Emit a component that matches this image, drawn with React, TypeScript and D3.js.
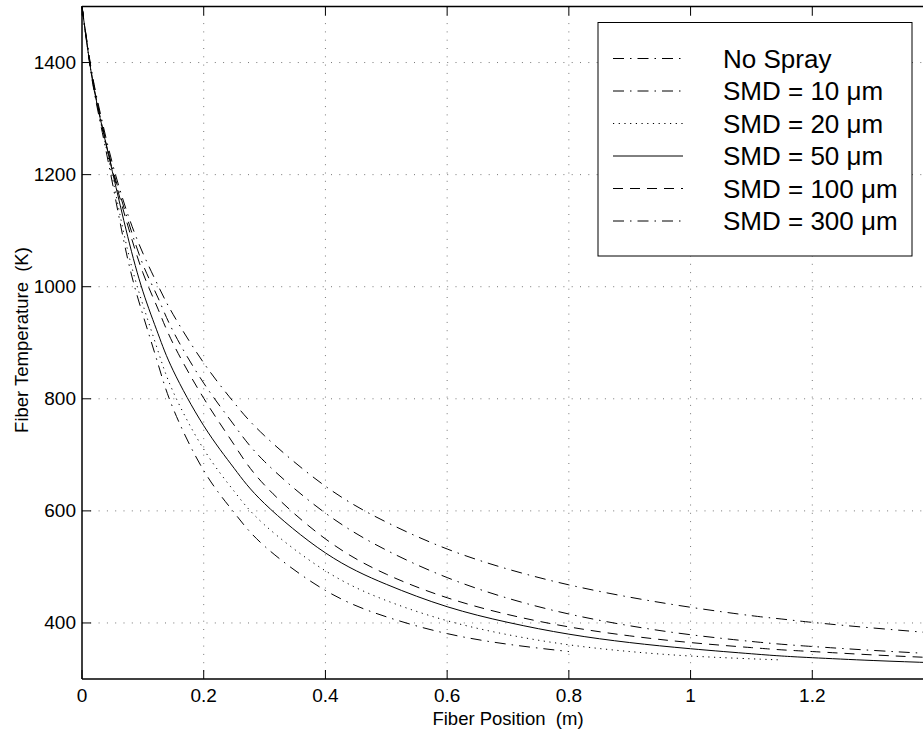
import React from "react";
import * as d3 from "d3";

// fiber position (m) where the curves were read
const position = [0, 0.015, 0.03, 0.05, 0.075, 0.1, 0.125, 0.15, 0.2, 0.25, 0.3, 0.4, 0.5, 0.6, 0.7, 0.8, 0.9, 1.0, 1.1, 1.15, 1.2, 1.3, 1.4];

// fiber temperature (K), null = curve already stopped
const noSpray = [1500, 1390, 1310, 1220, 1130, 1060, 1002, 950, 864, 793, 734, 644, 580, 532, 496, 468, 446, 428, 413, 407, 401, 391, 382];
const smd10 = [1500, 1380, 1293, 1185, 1050, 950, 862, 782, 672, 597, 537, 458, 411, 381, 362, 349, null, null, null, null, null, null, null];
const smd20 = [1500, 1382, 1297, 1195, 1065, 968, 885, 812, 710, 635, 575, 493, 440, 404, 379, 361, 349, 341, 336, 334, null, null, null];
const smd50 = [1500, 1383, 1300, 1205, 1090, 992, 916, 850, 752, 676, 613, 525, 469, 429, 401, 380, 365, 354, 345, 341, 338, 333, 329];
const smd100 = [1500, 1385, 1302, 1208, 1110, 1025, 960, 898, 801, 718, 646, 550, 487, 445, 415, 393, 377, 365, 356, 352, 349, 343, 338];
const smd300 = [1500, 1388, 1305, 1212, 1120, 1040, 980, 920, 828, 753, 688, 596, 530, 481, 444, 416, 395, 379, 367, 362, 358, 351, 345];

const xTicks = [0, 0.2, 0.4, 0.6, 0.8, 1, 1.2];
const yTicks = [400, 600, 800, 1000, 1200, 1400];

const DASHDOT = "11,6,1.5,6";
const series = [
  { label: "No Spray", values: noSpray, dash: DASHDOT },
  { label: "SMD = 10 \u03bcm", values: smd10, dash: DASHDOT },
  { label: "SMD = 20 \u03bcm", values: smd20, dash: "1.2,4.5" },
  { label: "SMD = 50 \u03bcm", values: smd50, dash: null },
  { label: "SMD = 100 \u03bcm", values: smd100, dash: "10,7" },
  { label: "SMD = 300 \u03bcm", values: smd300, dash: DASHDOT },
];

const FONT = "'Liberation Sans', Arial, Helvetica, sans-serif";

export default function App() {
  const width = 923;
  const height = 734;
  const left = 82;
  const top = 6.5;
  const bottom = 679;

  const x = d3.scaleLinear().domain([0, 1.4]).range([left, 934]);
  const y = d3.scaleLinear().domain([300, 1500]).range([bottom, top]);

  const line = d3
    .line<[number, number | null]>()
    .defined((d) => d[1] != null)
    .x((d) => x(d[0]))
    .y((d) => y(d[1] as number))
    .curve(d3.curveNatural);

  const legendX = 598;
  const legendY = 22.5;
  const rowY = (i: number) => 58.5 + i * 32.5;

  return (
    <svg
      width={width}
      height={height}
      style={{ position: "absolute", left: 0, top: 0, background: "#fff" }}
      fontFamily={FONT}
    >
      {/* grid */}
      <g stroke="#777" strokeWidth={1} strokeDasharray="1,7.3">
        {xTicks.filter((t) => t > 0).map((t) => (
          <line key={"gx" + t} x1={x(t)} x2={x(t)} y1={top} y2={bottom} />
        ))}
        {yTicks.map((t) => (
          <line key={"gy" + t} x1={left} x2={width} y1={y(t)} y2={y(t)} />
        ))}
      </g>

      {/* curves */}
      <g fill="none" stroke="#000" strokeWidth={1}>
        {series.map((s) => (
          <path
            key={s.label}
            d={line(position.map((p, i) => [p, s.values[i]])) || ""}
            strokeDasharray={s.dash || undefined}
          />
        ))}
      </g>

      {/* axes */}
      <g stroke="#000" strokeWidth={1.5}>
        <line x1={left} x2={width} y1={top} y2={top} />
        <line x1={left} x2={width} y1={bottom} y2={bottom} />
        <line x1={left} x2={left} y1={top} y2={bottom} />
      </g>
      <g stroke="#000" strokeWidth={1}>
        {xTicks.map((t) => (
          <g key={"tx" + t}>
            <line x1={x(t)} x2={x(t)} y1={bottom} y2={bottom - 9} />
            <line x1={x(t)} x2={x(t)} y1={top} y2={top + 9} />
          </g>
        ))}
        {yTicks.map((t) => (
          <line key={"ty" + t} x1={left} x2={left + 9} y1={y(t)} y2={y(t)} />
        ))}
      </g>

      {/* tick labels */}
      <g fontSize={19} fill="#000">
        {xTicks.map((t) => (
          <text key={"lx" + t} x={x(t)} y={702} textAnchor="middle">
            {d3.format("~g")(t)}
          </text>
        ))}
        {yTicks.map((t) => (
          <text key={"ly" + t} x={76} y={y(t)} textAnchor="end" dominantBaseline="central">
            {t}
          </text>
        ))}
      </g>

      {/* axis labels */}
      <text x={508} y={725} textAnchor="middle" fontSize={18.5} style={{ whiteSpace: "pre" }}>
        {"Fiber Position  (m)"}
      </text>
      <text
        transform={`translate(28,340) rotate(-90)`}
        textAnchor="middle"
        fontSize={18.5}
        style={{ whiteSpace: "pre" }}
      >
        {"Fiber Temperature  (K)"}
      </text>

      {/* legend */}
      <rect x={legendX} y={legendY} width={314} height={233.5} fill="#fff" stroke="#000" strokeWidth={1} />
      {series.map((s, i) => (
        <g key={"lg" + s.label}>
          <line
            x1={613}
            x2={683}
            y1={rowY(i)}
            y2={rowY(i)}
            stroke="#000"
            strokeWidth={1}
            strokeDasharray={s.dash || undefined}
          />
          <text x={723} y={rowY(i)} dominantBaseline="central" fontSize={26}>
            {s.label}
          </text>
        </g>
      ))}
    </svg>
  );
}
